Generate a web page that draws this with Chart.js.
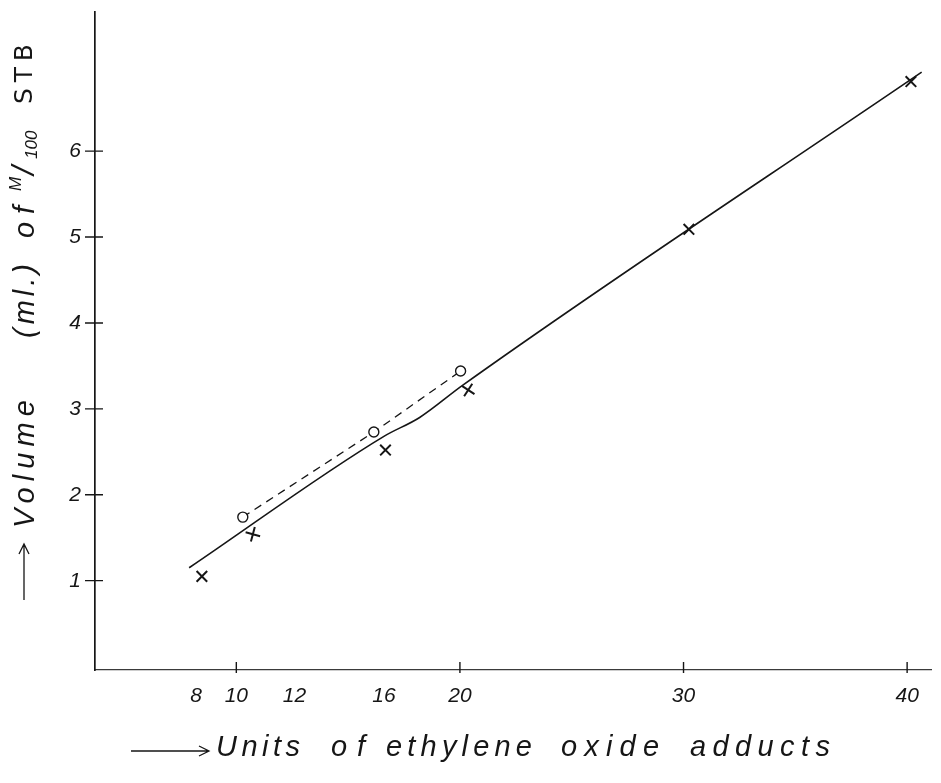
<!DOCTYPE html>
<html>
<head>
<meta charset="utf-8">
<script src="https://cdn.jsdelivr.net/npm/chart.js@4.4.1/dist/chart.umd.min.js"></script>
<style>
  html, body { margin: 0; padding: 0; background: #fff; }
  #wrap { width: 941px; height: 783px; }
</style>
</head>
<body>
<div id="wrap"><canvas id="c" width="941" height="783"></canvas></div>
<script>
// Titration volume against ethylene oxide units
const crossX = [8.46, 10.74, 16.67, 20.37, 30.24, 40.17];
const crossY = [1.05, 1.54, 2.52, 3.22, 5.09, 6.81];
const circleX = [10.29, 16.15, 20.03];
const circleY = [1.74, 2.73, 3.44];
const lineX = [7.89, 16.6, 18.2, 20.1, 40.65];
const lineY = [1.15, 2.68, 2.90, 3.27, 6.92];

// Axis ticks (where each figure was written on the axis)
const xTickValues = [8.2, 10, 12.6, 16.6, 20, 30, 40];
const xTickLabels = ['8', '10', '12', '16', '20', '30', '40'];
const xTickMarks = [10, 20, 30, 40];
const yTickValues = [1, 2, 3, 4, 5, 6];
const yTickLabels = ['1', '2', '3', '4', '5', '6'];

const INK = '#161616';
const FACE = '"Liberation Sans", "DejaVu Sans", sans-serif';

const toPoints = (xs, ys) => xs.map((x, i) => ({ x, y: ys[i] }));

// Tick marks crossing the axes, x figures, and the two arrowed axis titles
const handMarks = {
  id: 'handMarks',
  afterDraw(chart) {
    const { ctx, scales: { x, y }, chartArea: a } = chart;
    ctx.save();
    ctx.strokeStyle = INK;
    ctx.lineWidth = 1.4;
    ctx.beginPath();
    yTickValues.forEach(v => {
      const py = y.getPixelForValue(v);
      ctx.moveTo(a.left - 10, py);
      ctx.lineTo(a.left + 8, py);
    });
    xTickMarks.forEach(v => {
      const px = x.getPixelForValue(v);
      ctx.moveTo(px, a.bottom - 8);
      ctx.lineTo(px, a.bottom + 3);
    });
    ctx.stroke();

    ctx.fillStyle = INK;
    ctx.textBaseline = 'middle';
    ctx.textAlign = 'center';
    ctx.font = 'italic 21px ' + FACE;
    xTickValues.forEach((v, i) => {
      ctx.fillText(xTickLabels[i], x.getPixelForValue(v), a.bottom + 26);
    });

    const arrow = (x0, y0, len) => {
      ctx.beginPath();
      ctx.moveTo(x0, y0);
      ctx.lineTo(x0 + len, y0);
      ctx.moveTo(x0 + len - 10, y0 - 5);
      ctx.lineTo(x0 + len, y0);
      ctx.lineTo(x0 + len - 10, y0 + 5);
      ctx.lineWidth = 1.3;
      ctx.stroke();
    };

    // text stretched by letter spacing to a given length
    const spread = (t, font, x0, y0, len) => {
      ctx.font = font;
      ctx.letterSpacing = '0px';
      const w = ctx.measureText(t).width;
      const sp = Math.max(0, (len - w) / Math.max(1, t.length - 1));
      ctx.letterSpacing = sp.toFixed(2) + 'px';
      ctx.fillText(t, x0, y0);
      ctx.letterSpacing = '0px';
    };

    ctx.textAlign = 'left';

    // x title
    arrow(131, 751, 78);
    const xf = 'italic 29px ' + FACE;
    spread('Units', xf, 216, 748, 84);
    spread('of', xf, 331, 748, 34);
    spread('ethylene', xf, 386, 748, 146);
    spread('oxide', xf, 561, 748, 98);
    spread('adducts', xf, 690, 748, 140);

    // y title, written upwards from the bottom
    ctx.save();
    ctx.translate(24, 600);
    ctx.rotate(-Math.PI / 2);
    arrow(0, 0, 56);
    const yf = 'italic 29px ' + FACE;
    spread('Volume', yf, 72, 2, 128);
    spread('(ml.)', yf, 262, 2, 74);
    spread('of', yf, 362, 2, 32);
    ctx.font = 'italic 17px ' + FACE;
    ctx.fillText('M', 409, -8);
    ctx.font = 'italic 32px ' + FACE;
    ctx.fillText('/', 425, 1);
    ctx.font = 'italic 17px ' + FACE;
    ctx.fillText('100', 441, 8);
    spread('STB', '25px "DejaVu Sans", sans-serif', 496, 1, 60);
    ctx.restore();
    ctx.restore();
  }
};

new Chart(document.getElementById('c'), {
  type: 'scatter',
  data: {
    datasets: [
      {
        label: 'line',
        type: 'line',
        data: toPoints(lineX, lineY),
        borderColor: INK,
        borderWidth: 1.6,
        pointRadius: 0,
        cubicInterpolationMode: 'monotone',
        fill: false
      },
      {
        label: 'circles',
        type: 'line',
        data: toPoints(circleX, circleY),
        borderColor: INK,
        borderWidth: 1.3,
        borderDash: [8, 6],
        pointStyle: 'circle',
        pointRadius: 5,
        pointBorderWidth: 1.4,
        pointBackgroundColor: '#fff',
        pointBorderColor: INK,
        tension: 0,
        fill: false
      },
      {
        label: 'crosses',
        data: toPoints(crossX, crossY),
        showLine: false,
        pointStyle: 'crossRot',
        pointRadius: 7.5,
        pointBorderWidth: 2,
        pointBorderColor: INK,
        pointRotation: [0, -30, 0, -12, 0, 0]
      }
    ]
  },
  options: {
    responsive: false,
    animation: false,
    devicePixelRatio: 1,
    layout: { padding: { left: 0, top: 12, right: 1, bottom: 0 } },
    plugins: { legend: { display: false }, tooltip: { enabled: false } },
    scales: {
      x: {
        type: 'linear',
        min: 3.68,
        max: 41.09,
        afterBuildTicks: s => { s.ticks = xTickValues.map(v => ({ value: v })); },
        afterFit: s => { s.height = 113; s.paddingLeft = 0; s.paddingRight = 0; },
        grid: { display: false, drawTicks: false },
        border: { display: true, color: '#3a3a3a', width: 1.3, dash: [4, 1] },
        ticks: { display: false }
      },
      y: {
        type: 'linear',
        min: -0.04,
        max: 7.62,
        afterBuildTicks: s => { s.ticks = yTickValues.map(v => ({ value: v })); },
        afterFit: s => { s.width = 95; s.paddingTop = 0; s.paddingBottom = 0; },
        grid: { display: false, drawTicks: false },
        border: { display: true, color: INK, width: 1.7 },
        ticks: {
          padding: 14,
          color: INK,
          font: { family: FACE, size: 21, style: 'italic' },
          callback: (v, i) => yTickLabels[i]
        }
      }
    }
  },
  plugins: [handMarks]
});
</script>
</body>
</html>
